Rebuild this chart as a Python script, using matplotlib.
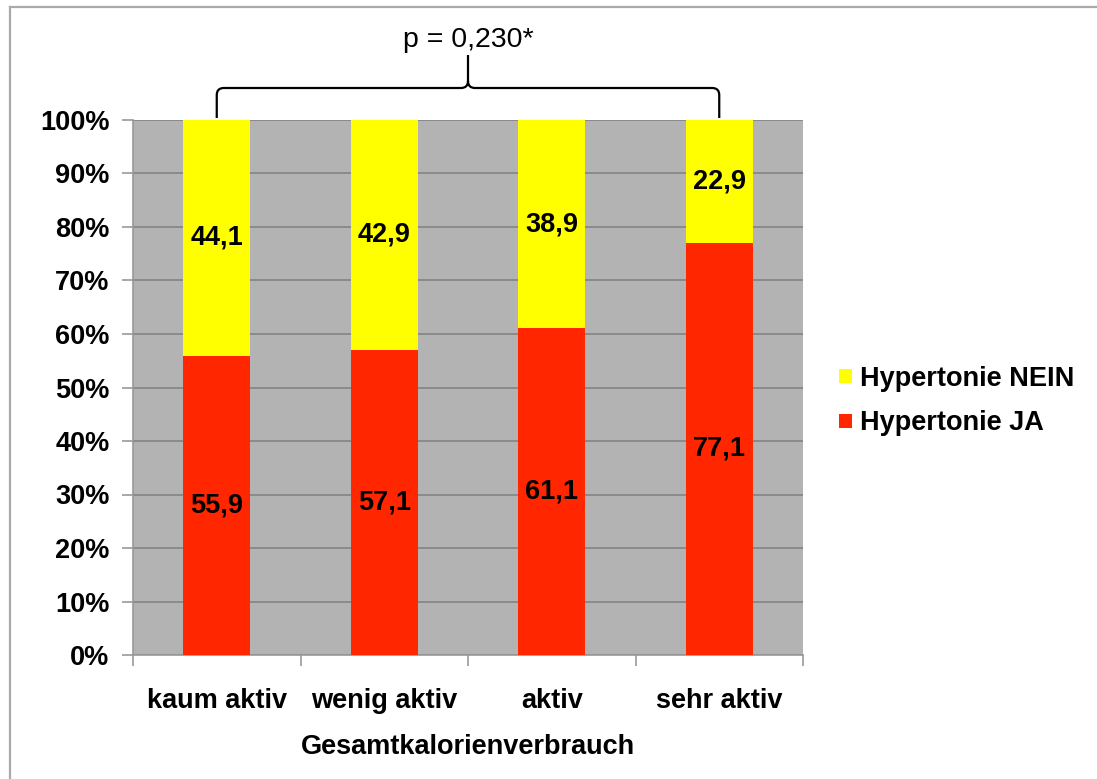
import matplotlib
matplotlib.use("Agg")
import matplotlib.pyplot as plt
from matplotlib.path import Path
from matplotlib.patches import PathPatch
from matplotlib.lines import Line2D
import matplotlib.transforms as mtransforms
import numpy as np

categories = ["kaum aktiv", "wenig aktiv", "aktiv", "sehr aktiv"]
hyp_ja = [55.9, 57.1, 61.1, 77.1]
hyp_nein = [44.1, 42.9, 38.9, 22.9]
ja_labels = ["55,9", "57,1", "61,1", "77,1"]
nein_labels = ["44,1", "42,9", "38,9", "22,9"]
yticks = [0, 10, 20, 30, 40, 50, 60, 70, 80, 90, 100]
ytick_labels = [f"{v}%" for v in yticks]
p_text = "p = 0,230*"
xlabel = "Gesamtkalorienverbrauch"

plt.rcParams['font.family'] = ['Liberation Sans', 'DejaVu Sans']

W, H = 1097, 779
fig = plt.figure(figsize=(W / 100, H / 100), dpi=100)
fig.patch.set_facecolor("white")

ax = fig.add_axes([133 / W, 1 - 655 / H, (803 - 133) / W, (655 - 120) / H])
ax.set_facecolor("#b3b3b3")

x = np.arange(len(categories))
bw = 0.4
yellow = "#ffff00"
red = "#ff2600"
ax.bar(x, hyp_ja, width=bw, color=red, zorder=3, label="Hypertonie JA")
ax.bar(x, hyp_nein, width=bw, bottom=hyp_ja, color=yellow, zorder=3, label="Hypertonie NEIN")

fs = 19.5
for i in range(len(categories)):
    ax.text(x[i], hyp_ja[i] / 2, ja_labels[i], ha="center", va="center",
            fontsize=fs, fontweight="bold", zorder=4)
    ax.text(x[i], hyp_ja[i] + hyp_nein[i] / 2, nein_labels[i], ha="center", va="center",
            fontsize=fs, fontweight="bold", zorder=4)

ax.set_xlim(-0.5, len(categories) - 0.5)
ax.set_ylim(0, 100)
ax.set_yticks(yticks)
ax.set_yticklabels(ytick_labels, fontsize=fs, fontweight="bold")
ax.yaxis.grid(True, color="#8a8a8a", linewidth=1.4, zorder=1)
ax.set_axisbelow(True)
ax.tick_params(axis="y", length=8, width=1.2, color="#999999", pad=9)

ax.set_xticks(np.arange(-0.5, len(categories), 1.0))
ax.set_xticklabels([])
ax.set_xticks(x, minor=True)
ax.set_xticklabels(categories, minor=True, fontsize=fs, fontweight="bold")
ax.tick_params(axis="x", which="major", length=8, width=1.2, color="#999999")
ax.tick_params(axis="x", which="minor", length=0, pad=24)

for s in ["top", "right"]:
    ax.spines[s].set_visible(False)
for s in ["left", "bottom"]:
    ax.spines[s].set_color("#999999")
    ax.spines[s].set_linewidth(1.2)

ax.set_xlabel(xlabel, fontsize=fs, fontweight="bold", labelpad=14)

# legend
handles, labels = ax.get_legend_handles_labels()
leg = fig.legend(handles[::-1], labels[::-1], loc="center left",
                 bbox_to_anchor=(815 / W, 1 - 401 / H), frameon=False,
                 prop={"size": fs, "weight": "bold"}, handlelength=0.45, handleheight=0.45,
                 handletextpad=0.3, labelspacing=0.7)

# brace
trans = mtransforms.blended_transform_factory(ax.transData, ax.transAxes)
ppx = 535.0  # px per axes unit (y)
xpx = 167.5  # px per data unit (x)
y0 = 1.0 + 2 / ppx
yh = 1.0 + 32 / ppx
yp = 1.0 + 65 / ppx
rx = 7 / xpx
ry = 7 / ppx
x0, x1 = x[0], x[-1]
xm = (x0 + x1) / 2
verts = [
    (x0, y0), (x0, yh - ry), (x0, yh), (x0 + rx, yh),
    (xm - rx, yh), (xm, yh), (xm, yh + ry), (xm, yp),
    (xm, yh + ry), (xm, yh), (xm + rx, yh),
    (x1 - rx, yh), (x1, yh), (x1, yh - ry), (x1, y0),
]
codes = [
    Path.MOVETO, Path.LINETO, Path.CURVE3, Path.CURVE3,
    Path.LINETO, Path.CURVE3, Path.CURVE3, Path.LINETO,
    Path.MOVETO, Path.CURVE3, Path.CURVE3,
    Path.LINETO, Path.CURVE3, Path.CURVE3, Path.LINETO,
]
brace = PathPatch(Path(verts, codes), transform=trans, fill=False,
                  edgecolor="black", linewidth=1.6, clip_on=False)
ax.add_patch(brace)
ax.text(xm, 1.0 + 80 / ppx, p_text, transform=trans, ha="center", va="center",
        fontsize=20.5)

# figure border
fig.add_artist(Line2D([10 / W, 10 / W], [0, 1 - 7 / H], transform=fig.transFigure,
                      color="#aaaaaa", linewidth=1.6))
fig.add_artist(Line2D([10 / W, 1], [1 - 7 / H, 1 - 7 / H], transform=fig.transFigure,
                      color="#aaaaaa", linewidth=1.6))

fig.savefig("out.png", dpi=100)
